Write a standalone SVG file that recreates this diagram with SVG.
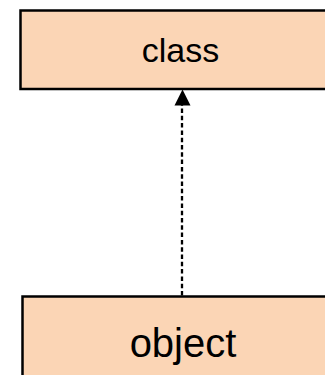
<svg xmlns="http://www.w3.org/2000/svg" width="325" height="375" viewBox="0 0 325 375">
  <defs>
    <style>
      .box { fill: #FBD5B5; stroke: #000000; stroke-width: 2.5; }
      .lbl { font-family: "Liberation Sans", Arial, sans-serif; fill: #000000; text-anchor: middle; }
      .conn { stroke: #000000; stroke-width: 2.3; stroke-dasharray: 4.5 2.8; fill: none; }
    </style>
  </defs>
  <rect width="325" height="375" fill="#FFFFFF"/>
  <g id="class">
    <rect class="box" x="20.5" y="10.5" width="330" height="78.5"/>
    <text class="lbl" x="180.5" y="61.7" font-size="34">class</text>
  </g>
  <g id="object">
    <rect class="box" x="22.5" y="296.5" width="330" height="100"/>
    <text class="lbl" x="183" y="356.7" font-size="40">object</text>
  </g>
  <g id="connectors">
    <path class="conn" d="M182,295.5 L182,105" />
    <path d="M174.5,105.5 L190.5,105.5 L182.5,89.5 Z" fill="#000000"/>
  </g>
</svg>
